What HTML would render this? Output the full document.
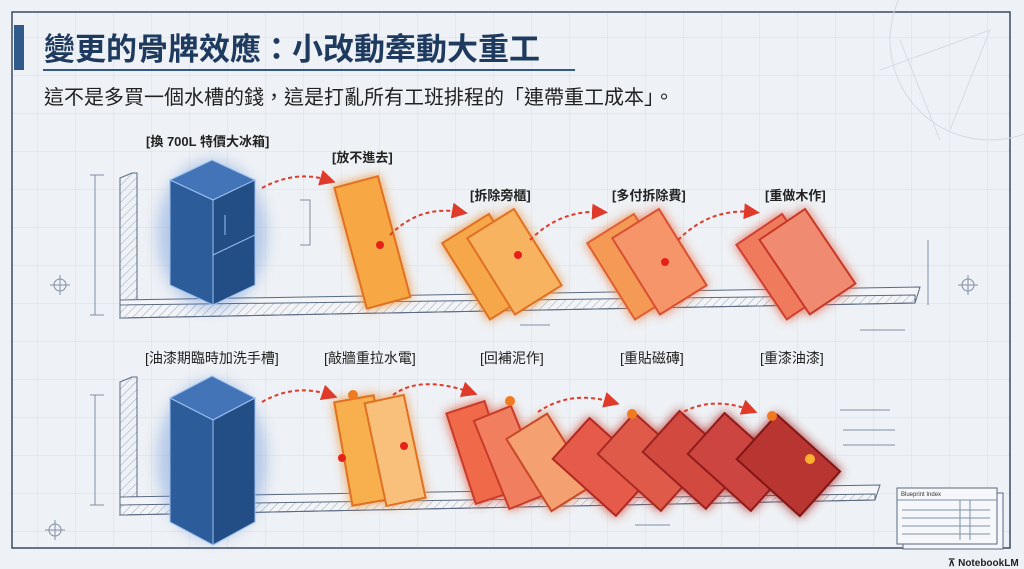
<!DOCTYPE html>
<html><head><meta charset="utf-8"><style>
body{margin:0;width:1024px;height:569px;overflow:hidden;background:#eef1f5;font-family:"Liberation Sans","Noto Sans CJK TC",sans-serif}
svg{position:absolute;left:0;top:0}
</style></head><body>
<svg width="1024" height="569" viewBox="0 0 1024 569">
<defs>
<pattern id="grid" width="38" height="38" patternUnits="userSpaceOnUse"><path d="M38 0V38M0 38H38" stroke="#d9e0e8" stroke-width="1" fill="none"/></pattern>
<pattern id="hatch" width="6" height="6" patternUnits="userSpaceOnUse" patternTransform="rotate(45)"><line x1="0" y1="0" x2="0" y2="6" stroke="#9aa8b8" stroke-width="1"/></pattern>
<filter id="glowO" x="-50%" y="-50%" width="200%" height="200%"><feGaussianBlur stdDeviation="5" result="b"/><feMerge><feMergeNode in="b"/><feMergeNode in="SourceGraphic"/></feMerge></filter>
<filter id="blur" x="-50%" y="-50%" width="200%" height="200%"><feGaussianBlur stdDeviation="7"/></filter>
<marker id="ah" markerWidth="8" markerHeight="8" refX="4" refY="4" orient="auto"><path d="M0 0L8 4L0 8z" fill="#e03a2a"/></marker>
</defs>
<rect width="1024" height="569" fill="#eef1f5"/>
<rect x="12" y="12" width="998" height="536" fill="url(#grid)" stroke="#3a4a60" stroke-width="1.5"/>
<g stroke="#d4dce6" fill="none" stroke-width="1"><circle cx="990" cy="40" r="100"/><path d="M880 70L990 30L950 130M900 40L940 140"/></g>
<rect x="14" y="25" width="10" height="45" fill="#2f5a8a"/>
<text x="44" y="60" font-size="31" font-weight="bold" fill="#1e3a5f">變更的骨牌效應：小改動牽動大重工</text>
<line x1="43" y1="70" x2="575" y2="70" stroke="#2f5a8a" stroke-width="2"/>
<text x="44" y="104" font-size="20" fill="#222">這不是多買一個水槽的錢，這是打亂所有工班排程的「連帶重工成本」。</text>

<polygon points="120,178 132,173 137,173 137,300 120,318" fill="url(#hatch)" stroke="#5a6a80"/>
<polygon points="120,300 920,287 915,303 120,318" fill="#f2f4f7" stroke="#5a6a80"/>
<polygon points="120,305 915,295 915,303 120,318" fill="url(#hatch)" stroke="#5a6a80"/>
<g stroke="#8090a4" fill="none"><path d="M95 175V315M90 175H104M90 315H104M50 285H70M60 275V295"/><circle cx="60" cy="285" r="6"/><path d="M300 200H310V245H300M928 240V305M958 285H978M968 275V295"/><circle cx="968" cy="285" r="6"/><path d="M520 325H550M860 330H905"/></g>

<ellipse cx="212" cy="235" rx="55" ry="75" fill="#4c7fd0" opacity=".35" filter="url(#blur)"/>
<polygon points="170,180 212,160 255,180 213,200" fill="#4474b8" stroke="#9cc0ee"/>
<polygon points="170,180 213,200 213,305 170,285" fill="#2c5c9a" stroke="#9cc0ee"/>
<polygon points="213,200 255,180 255,285 213,305" fill="#224d85" stroke="#9cc0ee"/>
<path d="M213,255 L255,235 M225,215V235" stroke="#9cc0ee" fill="none"/>

<g filter="url(#glowO)">
<rect x="350" y="180" width="45" height="125" fill="#f7a845" stroke="#e07020" stroke-width="2" transform="rotate(-15 372 243)"/>
<rect x="462" y="222" width="55" height="90" fill="#f6a748" stroke="#e07020" stroke-width="2" transform="rotate(-32 489 267)"/>
<rect x="487" y="217" width="55" height="90" fill="#f8b360" stroke="#e07020" stroke-width="2" transform="rotate(-32 514 262)"/>
<rect x="607" y="222" width="55" height="90" fill="#f59a55" stroke="#e06030" stroke-width="2" transform="rotate(-32 634 267)"/>
<rect x="632" y="217" width="55" height="90" fill="#f6946a" stroke="#d85030" stroke-width="2" transform="rotate(-32 659 262)"/>
<rect x="757" y="222" width="55" height="90" fill="#f07a5c" stroke="#d04030" stroke-width="2" transform="rotate(-34 784 267)"/>
<rect x="780" y="217" width="55" height="90" fill="#f08a70" stroke="#c83828" stroke-width="2" transform="rotate(-34 807 262)"/>
</g>
<g fill="#e8201a"><circle cx="380" cy="245" r="4"/><circle cx="518" cy="255" r="4"/><circle cx="665" cy="262" r="4"/></g>
<g stroke="#e03a2a" stroke-width="2" stroke-dasharray="4 3" fill="none" marker-end="url(#ah)">
<path d="M262 188Q295 170 328 180"/><path d="M390 235Q420 205 460 212"/><path d="M530 240Q560 210 600 212"/><path d="M678 240Q710 208 752 212"/></g>

<g font-size="13" font-weight="bold" fill="#222">
<text x="146" y="146">[換 700L 特價大冰箱]</text><text x="332" y="162">[放不進去]</text>
<text x="470" y="200">[拆除旁櫃]</text><text x="612" y="200">[多付拆除費]</text><text x="765" y="200">[重做木作]</text></g>

<polygon points="120,382 132,377 137,377 137,500 120,515" fill="url(#hatch)" stroke="#5a6a80"/>
<polygon points="120,497 880,485 875,500 120,515" fill="#f2f4f7" stroke="#5a6a80"/>
<polygon points="120,505 875,494 875,500 120,515" fill="url(#hatch)" stroke="#5a6a80"/>
<g stroke="#8090a4" fill="none"><path d="M95 395V505M90 395H104M90 505H104M45 530H65M55 520V540"/><circle cx="55" cy="530" r="6"/><path d="M635 525H670M840 410H890M843 430H895M843 445H895"/></g>

<ellipse cx="212" cy="460" rx="55" ry="80" fill="#4c7fd0" opacity=".35" filter="url(#blur)"/>
<polygon points="170,398 212,376 255,398 213,420" fill="#4474b8" stroke="#9cc0ee"/>
<polygon points="170,398 213,420 213,545 170,522" fill="#2c5c9a" stroke="#9cc0ee"/>
<polygon points="213,420 255,398 255,522 213,545" fill="#224d85" stroke="#9cc0ee"/>

<g filter="url(#glowO)">
<rect x="343" y="398" width="40" height="105" fill="#f8b050" stroke="#e07020" stroke-width="2" transform="rotate(-10 363 450)"/>
<rect x="375" y="398" width="40" height="105" fill="#f8c07a" stroke="#e07020" stroke-width="2" transform="rotate(-12 395 450)"/>
<rect x="460" y="405" width="40" height="95" fill="#f06a4a" stroke="#c83a2a" stroke-width="2" transform="rotate(-18 480 452)"/>
<rect x="490" y="410" width="40" height="95" fill="#f07e5e" stroke="#c83a2a" stroke-width="2" transform="rotate(-22 510 457)"/>
<rect x="525" y="420" width="48" height="85" fill="#f4a070" stroke="#c84a2a" stroke-width="2" transform="rotate(-32 549 462)"/>
<rect x="575" y="425" width="55" height="85" fill="#e65a48" stroke="#b02a20" stroke-width="2" transform="rotate(-48 602 467)"/>
<rect x="620" y="420" width="55" height="85" fill="#e05a4a" stroke="#a82a20" stroke-width="2" transform="rotate(-48 647 462)"/>
<rect x="665" y="418" width="55" height="85" fill="#d24a40" stroke="#9a2020" stroke-width="2" transform="rotate(-48 692 460)"/>
<rect x="710" y="420" width="55" height="85" fill="#cc4540" stroke="#901a1a" stroke-width="2" transform="rotate(-48 737 462)"/>
<rect x="758" y="423" width="60" height="85" fill="#b83530" stroke="#801515" stroke-width="2" transform="rotate(-48 788 465)"/>
</g>
<g fill="#f07a20"><circle cx="353" cy="395" r="5"/><circle cx="510" cy="401" r="5"/><circle cx="632" cy="414" r="5"/><circle cx="772" cy="416" r="5"/><circle cx="810" cy="459" r="5" fill="#ffb030"/></g>
<g fill="#e8201a"><circle cx="342" cy="458" r="4"/><circle cx="404" cy="446" r="4"/></g>
<g stroke="#e03a2a" stroke-width="2" stroke-dasharray="4 3" fill="none" marker-end="url(#ah)">
<path d="M262 402Q295 383 330 395"/><path d="M393 395Q420 375 470 392"/><path d="M538 412Q570 390 612 402"/><path d="M678 415Q710 395 750 410"/></g>

<g font-size="14" fill="#222">
<text x="145" y="363">[油漆期臨時加洗手槽]</text><text x="324" y="363">[敲牆重拉水電]</text>
<text x="480" y="363">[回補泥作]</text><text x="620" y="363">[重貼磁磚]</text><text x="760" y="363">[重漆油漆]</text></g>

<rect x="903" y="493" width="100" height="56" fill="#f5f7fa" stroke="#5a6a80"/>
<rect x="897" y="488" width="100" height="56" fill="#f5f7fa" stroke="#5a6a80"/>
<text x="901" y="496" font-size="6" fill="#333">Blueprint Index</text>
<g stroke="#8090a4"><path d="M897 500H997M902 510H990M902 518H990M902 526H990M902 534H990M960 500V540M970 500V540"/></g>
<text x="948" y="566" font-size="10" font-weight="bold" fill="#222">⊼ NotebookLM</text>
</svg>
</body></html>
